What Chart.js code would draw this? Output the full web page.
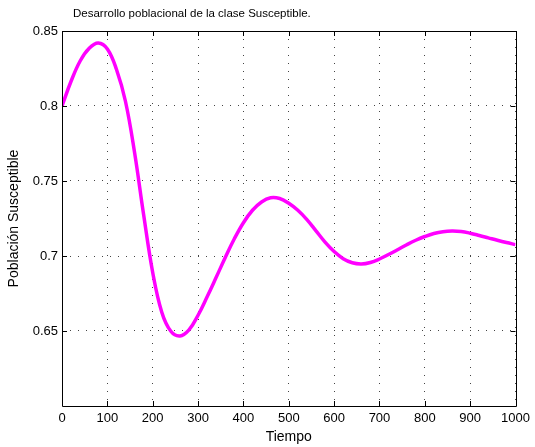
<!DOCTYPE html>
<html>
<head>
<meta charset="utf-8">
<script src="https://cdn.jsdelivr.net/npm/chart.js@4/dist/chart.umd.min.js"></script>
<style>
  html, body { margin: 0; padding: 0; background: #ffffff; }
  #wrap { width: 535px; height: 447px; }
</style>
</head>
<body>
<div id="wrap"><canvas id="c" width="535" height="447"></canvas></div>
<script>
// Susceptible fraction over time
const tiempo = [0, 20, 40, 60, 80, 100, 120, 140, 160, 180, 200, 220, 240, 260, 280, 300,
  320, 340, 360, 380, 400, 420, 440, 460, 480, 500, 520, 540, 560, 580, 600, 620, 640,
  660, 680, 700, 720, 740, 760, 780, 800, 820, 840, 860, 880, 900, 920, 940, 960, 980, 1000];
const susceptible = [0.8000, 0.8165, 0.8300, 0.8385, 0.8420, 0.8380, 0.8245, 0.8030, 0.7690, 0.7275,
  0.6890, 0.6625, 0.6498, 0.6467, 0.6508, 0.6605, 0.6728, 0.6858, 0.6990, 0.7115, 0.7222, 0.7305,
  0.7360, 0.7388, 0.7383, 0.7352, 0.7305, 0.7243, 0.7168, 0.7093, 0.7030, 0.6982, 0.6955,
  0.6947, 0.6957, 0.6980, 0.7010, 0.7042, 0.7075, 0.7105, 0.7130, 0.7150, 0.7162, 0.7166,
  0.7163, 0.7152, 0.7137, 0.7121, 0.7105, 0.7090, 0.7076];
const xTicks = [0, 100, 200, 300, 400, 500, 600, 700, 800, 900, 1000];
const yTicks = [0.65, 0.7, 0.75, 0.8, 0.85];
const titulo = 'Desarrollo poblacional de la clase Susceptible.';

const FONT = '"Liberation Sans", Arial, Helvetica, sans-serif';

// Box frame, inward tick marks and the heading
const framePlugin = {
  id: 'frame',
  afterDraw(chart) {
    const ctx = chart.ctx;
    const a = chart.chartArea;
    const xs = chart.scales.x, ys = chart.scales.y;
    ctx.save();
    ctx.strokeStyle = '#000000';
    ctx.lineWidth = 1;
    ctx.beginPath();
    ctx.rect(Math.round(a.left) + 0.5, Math.round(a.top) + 0.5,
             Math.round(a.right - a.left), Math.round(a.bottom - a.top));
    ctx.stroke();
    const tl = 5;
    ctx.beginPath();
    xTicks.forEach(v => {
      const px = Math.round(xs.getPixelForValue(v)) + 0.5;
      ctx.moveTo(px, a.bottom); ctx.lineTo(px, a.bottom - tl);
      ctx.moveTo(px, a.top); ctx.lineTo(px, a.top + tl);
    });
    yTicks.forEach(v => {
      const py = Math.round(ys.getPixelForValue(v)) + 0.5;
      ctx.moveTo(a.left, py); ctx.lineTo(a.left + tl, py);
      ctx.moveTo(a.right, py); ctx.lineTo(a.right - tl, py);
    });
    ctx.stroke();
    ctx.fillStyle = '#000000';
    ctx.font = '11.5px ' + FONT;
    ctx.textAlign = 'left';
    ctx.textBaseline = 'middle';
    ctx.fillText(titulo, a.left + 11, 14);
    ctx.restore();
  }
};

new Chart(document.getElementById('c'), {
  type: 'line',
  data: {
    datasets: [{
      data: tiempo.map((t, i) => ({ x: t, y: susceptible[i] })),
      borderColor: '#ff00ff',
      backgroundColor: '#ff00ff',
      borderWidth: 3.5,
      pointRadius: 0,
      tension: 0.4,
      fill: false
    }]
  },
  options: {
    responsive: false,
    animation: false,
    layout: { padding: { top: 31, right: 18, left: 0, bottom: 0 } },
    plugins: { legend: { display: false }, tooltip: { enabled: false }, title: { display: false } },
    scales: {
      x: {
        type: 'linear',
        min: 0, max: 1000,
        afterBuildTicks: s => { s.ticks = xTicks.map(v => ({ value: v })); },
        afterFit: s => { s.height = 41; },
        ticks: {
          color: '#000000', padding: 5, maxRotation: 0, autoSkip: false,
          font: { family: FONT, size: 13 },
          callback: v => String(v)
        },
        grid: { color: '#444444', lineWidth: 1, drawTicks: false },
        border: { display: false, dash: [1, 7] },
        title: {
          display: true, text: 'Tiempo', color: '#000000',
          font: { family: FONT, size: 14 },
          padding: { top: 1, bottom: 1 }
        }
      },
      y: {
        type: 'linear',
        min: 0.6, max: 0.85,
        afterBuildTicks: s => { s.ticks = yTicks.map(v => ({ value: v })); },
        afterFit: s => { s.width = 62; },
        ticks: {
          color: '#000000', padding: 4, autoSkip: false,
          font: { family: FONT, size: 13 },
          callback: v => String(parseFloat(Number(v).toFixed(2)))
        },
        grid: { color: '#444444', lineWidth: 1, drawTicks: false },
        border: { display: false, dash: [1, 7] },
        title: {
          display: true, text: 'Población Susceptible', color: '#000000',
          font: { family: FONT, size: 14 },
          padding: { top: 6, bottom: 6 }
        }
      }
    }
  },
  plugins: [framePlugin]
});
</script>
</body>
</html>
